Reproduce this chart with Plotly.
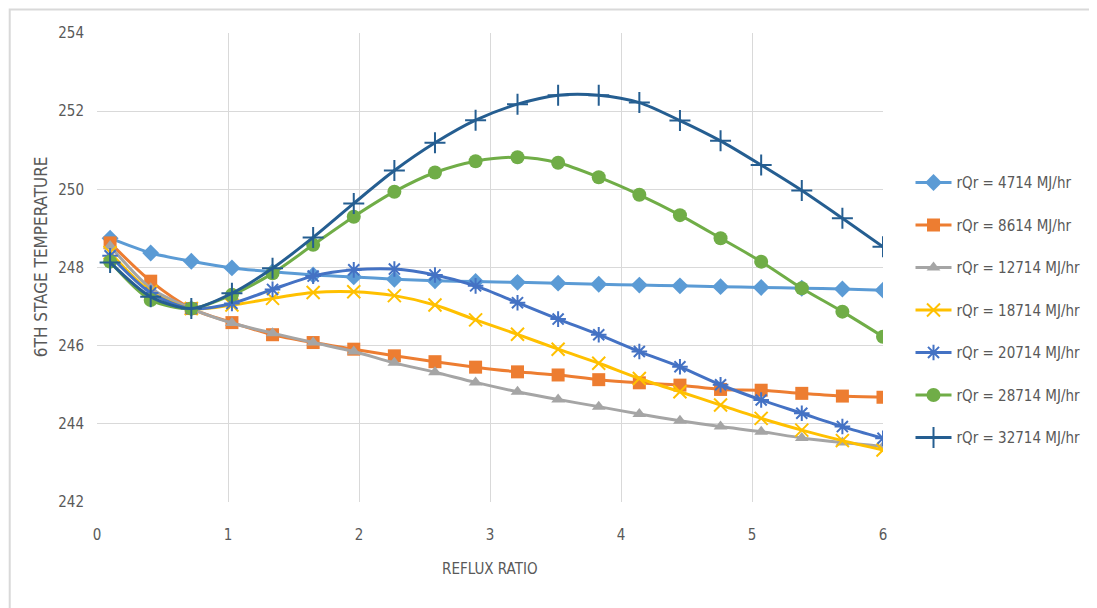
import plotly.graph_objects as go

reflux_ratio = [0.1, 0.41, 0.72, 1.03, 1.34, 1.65, 1.96, 2.27, 2.58, 2.89,
                3.21, 3.52, 3.83, 4.14, 4.45, 4.76, 5.07, 5.38, 5.69, 6.0]

t_4714 = [248.75, 248.37, 248.16, 247.99, 247.89, 247.81, 247.76, 247.70, 247.66, 247.64,
          247.62, 247.60, 247.57, 247.55, 247.53, 247.51, 247.49, 247.47, 247.45, 247.42]
t_8614 = [248.63, 247.65, 246.95, 246.59, 246.28, 246.08, 245.91, 245.74, 245.59, 245.45,
          245.33, 245.25, 245.13, 245.05, 244.99, 244.88, 244.86, 244.78, 244.71, 244.68]
t_12714 = [248.55, 247.47, 246.95, 246.58, 246.32, 246.08, 245.85, 245.56, 245.32, 245.06,
           244.82, 244.62, 244.44, 244.25, 244.08, 243.93, 243.80, 243.64, 243.52, 243.42]
t_18714 = [248.38, 247.38, 246.95, 247.04, 247.21, 247.36, 247.38, 247.28, 247.04, 246.66,
           246.29, 245.91, 245.55, 245.16, 244.82, 244.48, 244.14, 243.84, 243.57, 243.33]
t_20714 = [248.30, 247.35, 246.95, 247.08, 247.44, 247.78, 247.94, 247.96, 247.81, 247.53,
           247.10, 246.68, 246.28, 245.85, 245.46, 245.00, 244.61, 244.27, 243.93, 243.63]
t_28714 = [248.15, 247.17, 246.95, 247.30, 247.85, 248.58, 249.30, 249.94, 250.43, 250.72,
           250.82, 250.68, 250.31, 249.86, 249.34, 248.75, 248.15, 247.47, 246.87, 246.23]
t_32714 = [248.13, 247.25, 246.95, 247.34, 247.98, 248.77, 249.64, 250.48, 251.19, 251.77,
           252.18, 252.41, 252.41, 252.22, 251.76, 251.24, 250.62, 249.97, 249.26, 248.53]

series_names = ["rQr = 4714 MJ/hr", "rQr = 8614 MJ/hr", "rQr = 12714 MJ/hr",
                "rQr = 18714 MJ/hr", "rQr = 20714 MJ/hr", "rQr = 28714 MJ/hr",
                "rQr = 32714 MJ/hr"]
series_values = [t_4714, t_8614, t_12714, t_18714, t_20714, t_28714, t_32714]
colors = ["#5B9BD5", "#ED7D31", "#A5A5A5", "#FFC000", "#4472C4", "#70AD47", "#255E91"]
symbols = ["diamond", "square", "triangle-up", "x-thin-open", "asterisk-open",
           "circle", "cross-thin-open"]
sizes = [13, 13, 12, 13, 13, 14, 15]

FONT = "DejaVu Sans Condensed, Liberation Sans Narrow, Arial, sans-serif"
fig = go.Figure()
for i, (name, vals) in enumerate(zip(series_names, series_values)):
    open_sym = symbols[i].endswith("open")
    fig.add_trace(go.Scatter(
        x=reflux_ratio, y=vals, name=name, mode="lines+markers",
        legendgroup=f"g{i}",
        line=dict(color=colors[i], width=3, shape="spline", smoothing=0.8),
        marker=dict(symbol=symbols[i], size=sizes[i], color=colors[i],
                    line=dict(color=colors[i], width=2 if open_sym else 0)),
    ))

# page body adds 8px offset; compensate so plot area sits at x 97..885, y 33..502
W, H = 1089, 600
L, T, PW, PH = 89, 25, 788, 469
B = H - T - PH
fx0 = (1.5 - L) / PW          # 1.5 px from figure left edge
fx1 = (W - L) / PW            # figure right edge
fy0 = -B / PH                 # figure bottom edge
fy1 = (PH + T - 1.5) / PH     # 1.5 px below figure top edge
fig.update_layout(
    width=W, height=H,
    margin=dict(l=L, r=W - L - PW, t=T, b=B),
    paper_bgcolor="white", plot_bgcolor="white",
    font=dict(family=FONT, color="#595959", size=15),
    showlegend=True,
    legend=dict(x=1.035, y=0.716, xanchor="left", yanchor="top",
                font=dict(size=15, color="#595959", family=FONT),
                tracegroupgap=20, itemwidth=36, bgcolor="rgba(0,0,0,0)"),
    xaxis=dict(range=[0, 6], dtick=1, tick0=0, showgrid=True, gridcolor="#D9D9D9",
               gridwidth=1, zeroline=False, showline=False,
               ticklabelstandoff=22, tickfont=dict(size=15, color="#595959", family=FONT)),
    yaxis=dict(range=[242, 254], dtick=2, tick0=242, showgrid=True, gridcolor="#D9D9D9",
               gridwidth=1, zeroline=False, showline=False,
               ticklabelstandoff=12, tickfont=dict(size=15, color="#595959", family=FONT)),
    annotations=[
        dict(text="REFLUX RATIO", xref="paper", yref="paper",
             x=(490.5 - 97) / PW, y=(502 - 569) / PH, showarrow=False,
             xanchor="center", yanchor="middle",
             font=dict(size=15, color="#595959", family=FONT)),
        dict(text="6TH STAGE TEMPERATURE", xref="paper", yref="paper",
             x=(41 - 97) / PW, y=(502 - 257) / PH, showarrow=False, textangle=-90,
             xanchor="center", yanchor="middle",
             font=dict(size=17, color="#595959", family=FONT)),
    ],
    shapes=[dict(type="path", xref="paper", yref="paper",
                 path=f"M {fx0} {fy0} L {fx0} {fy1} L {fx1} {fy1}",
                 line=dict(color="#D9D9D9", width=2), layer="below")],
)

fig.write_html("out.html")
